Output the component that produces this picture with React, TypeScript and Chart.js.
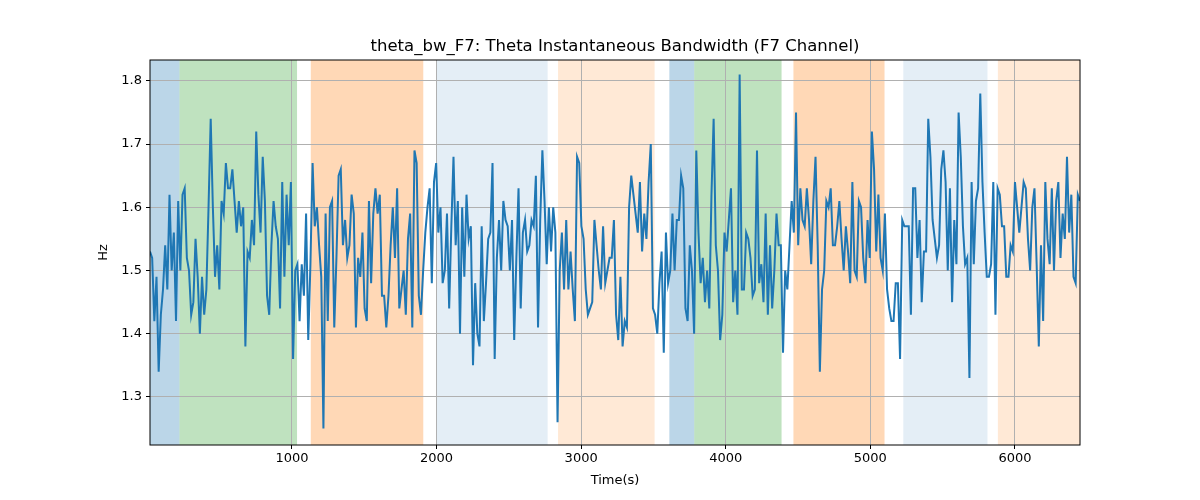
import React, { useEffect, useRef } from "react";
import { Chart, registerables } from "chart.js";
Chart.register(...registerables);

const seg1 = [1.53,1.52,1.42,1.49,1.34,1.43,1.47,1.54,1.47,1.62,1.50,1.56,1.42,1.61,1.50,1.62,1.63,1.52,1.50,1.43,1.45,1.55,1.49,1.40,1.49,1.43,1.47,1.60,1.74,1.60,1.49,1.54,1.47,1.61,1.59,1.67,1.63,1.63,1.66,1.61,1.56,1.61,1.57,1.60,1.38,1.53,1.52,1.58,1.54,1.72,1.62,1.56,1.68,1.61,1.46,1.43,1.54,1.61,1.57,1.55,1.44,1.64,1.49,1.62,1.54,1.64,1.36,1.50,1.51,1.42,1.51,1.46];
const seg2 = [1.59,1.39,1.51,1.67,1.57,1.60,1.54,1.49,1.25,1.59,1.42,1.60,1.61,1.41,1.52,1.65,1.66,1.54,1.58,1.52,1.54,1.62,1.59,1.41,1.52,1.49,1.56,1.44,1.42,1.61,1.48,1.59,1.63,1.59,1.62,1.46,1.46,1.41,1.46,1.54,1.60,1.52,1.63,1.44,1.47,1.50,1.43,1.55,1.59,1.41,1.69,1.67,1.46,1.43,1.50,1.56,1.60,1.63,1.48,1.64,1.67,1.56,1.60,1.48,1.50,1.59,1.44,1.57,1.68,1.54,1.61];
const seg3 = [1.40,1.60,1.49,1.62,1.55,1.57,1.35,1.48,1.40,1.38,1.57,1.42,1.48,1.55,1.56,1.67,1.36,1.52,1.58,1.50,1.61,1.58,1.57,1.50,1.58,1.39,1.52,1.63,1.44,1.56,1.58,1.53,1.54,1.58,1.57,1.65,1.41,1.58,1.69,1.61,1.51,1.60,1.53,1.60,1.56,1.26,1.50,1.56,1.47,1.58,1.47,1.53,1.47,1.42,1.68,1.67,1.57,1.55,1.47,1.43,1.44,1.45,1.58,1.54,1.50,1.47,1.57,1.48,1.50,1.52,1.52,1.58];
const seg4 = [1.43,1.39,1.49,1.38,1.42,1.41,1.60,1.65,1.62,1.59,1.56,1.64,1.53,1.59,1.55,1.64,1.70,1.44,1.43,1.40,1.48,1.53,1.37,1.56,1.48,1.50,1.59,1.50,1.58,1.58,1.65,1.63,1.44,1.42,1.54,1.50,1.40,1.69,1.56,1.48,1.52,1.45,1.50,1.44,1.62,1.74,1.54,1.50,1.39,1.43,1.56,1.53,1.58,1.63,1.45,1.50,1.43,1.81,1.47,1.47,1.56,1.55,1.52,1.46,1.47,1.69,1.48,1.51,1.45,1.59,1.43];
const seg5 = [1.54,1.44,1.50,1.59,1.54,1.54,1.37,1.50,1.47,1.54,1.61,1.56,1.75,1.54,1.63,1.58,1.57,1.63,1.58,1.51,1.61,1.68,1.54,1.34,1.47,1.50,1.61,1.60,1.63,1.54,1.54,1.57,1.61,1.55,1.50,1.57,1.53,1.48,1.64,1.50,1.49,1.61,1.60,1.52,1.48,1.58,1.52,1.72,1.66,1.53,1.62,1.52,1.50,1.59,1.47,1.44,1.42,1.42,1.48,1.48,1.36,1.58,1.57,1.57,1.57,1.43,1.63,1.63,1.52,1.58,1.45];
const seg6 = [1.53,1.53,1.74,1.68,1.58,1.55,1.52,1.54,1.66,1.69,1.64,1.50,1.63,1.45,1.58,1.51,1.75,1.68,1.57,1.51,1.52,1.33,1.64,1.51,1.61,1.63,1.78,1.64,1.56,1.49,1.49,1.51,1.64,1.43,1.63,1.62,1.57,1.57,1.49,1.49,1.54,1.53,1.64,1.60,1.56,1.60,1.64,1.63,1.55,1.50,1.60,1.63,1.51,1.38,1.54,1.42,1.64,1.55,1.51,1.63,1.50,1.61,1.64,1.52,1.59,1.55,1.68,1.56,1.62,1.49,1.48,1.62,1.61];
const values = [...seg1, ...seg2, ...seg3, ...seg4, ...seg5, ...seg6];
const tStart = 18;
const tEnd = 6450;

const regions: [number, number, string][] = [
  [18, 222, "rgba(31,119,180,0.3)"],
  [222, 1035, "rgba(44,160,44,0.3)"],
  [1130, 1908, "rgba(255,127,14,0.3)"],
  [1998, 2768, "rgba(31,119,180,0.12)"],
  [2840, 3508, "rgba(255,127,14,0.17)"],
  [3610, 3782, "rgba(31,119,180,0.3)"],
  [3782, 4386, "rgba(44,160,44,0.3)"],
  [4468, 5098, "rgba(255,127,14,0.3)"],
  [5228, 5810, "rgba(31,119,180,0.12)"],
  [5882, 6450, "rgba(255,127,14,0.17)"],
];
const xTicks = [1000, 2000, 3000, 4000, 5000, 6000];
const yTicks = [1.3, 1.4, 1.5, 1.6, 1.7, 1.8];
const title = "theta_bw_F7: Theta Instantaneous Bandwidth (F7 Channel)";

export default function App() {
  const ref = useRef<HTMLCanvasElement>(null);
  useEffect(() => {
    document.body.style.margin = "0";
    const n = values.length;
    const data = values.map((v, i) => ({ x: tStart + (i * (tEnd - tStart)) / (n - 1), y: v }));
    const font = { family: "DejaVu Sans", size: 13 };
    const chart = new Chart(ref.current!, {
      type: "line",
      data: { datasets: [{ data, borderColor: "#1f77b4", borderWidth: 2, pointRadius: 0, tension: 0 }] },
      plugins: [{
        id: "bg",
        beforeDraw(c: any) {
          const { ctx, chartArea: a, scales } = c;
          ctx.save();
          for (const [s, e, col] of regions) {
            const x1 = scales.x.getPixelForValue(s), x2 = scales.x.getPixelForValue(e);
            ctx.fillStyle = col;
            ctx.fillRect(x1, a.top, x2 - x1, a.bottom - a.top);
          }
          ctx.restore();
        },
        afterDraw(c: any) {
          const { ctx, chartArea: a } = c;
          ctx.save();
          ctx.strokeStyle = "#000"; ctx.lineWidth = 1;
          ctx.strokeRect(a.left, a.top, a.right - a.left, a.bottom - a.top);
          ctx.fillStyle = "#000"; ctx.font = "16.5px 'DejaVu Sans'";
          ctx.textAlign = "center"; ctx.textBaseline = "bottom";
          ctx.fillText(title, (a.left + a.right) / 2, a.top - 5);
          ctx.restore();
        },
      }],
      options: {
        animation: false, responsive: false,
        layout: { padding: { top: 60, right: 120, left: 96, bottom: 10 } },
        plugins: { legend: { display: false }, tooltip: { enabled: false } },
        scales: {
          x: {
            type: "linear", min: tStart, max: tEnd,
            afterBuildTicks: (s: any) => { s.ticks = xTicks.map((v) => ({ value: v })); },
            afterFit: (s: any) => { s.height = 45; },
            grid: { color: "#b0b0b0", tickColor: "#000", tickLength: 4 },
            border: { display: false },
            ticks: { color: "#000", font, maxRotation: 0, padding: 2, callback: (v: any) => String(v) },
            title: { display: true, text: "Time(s)", color: "#000", font, padding: 2 },
          },
          y: {
            min: 1.224, max: 1.833,
            afterBuildTicks: (s: any) => { s.ticks = yTicks.map((v) => ({ value: v })); },
            afterFit: (s: any) => { s.width = 54; },
            grid: { color: "#b0b0b0", tickColor: "#000", tickLength: 4 },
            border: { display: false },
            ticks: { color: "#000", font, padding: 4, callback: (v: any) => Number(v).toFixed(1) },
            title: { display: true, text: "Hz", color: "#000", font, padding: 0 },
          },
        },
      },
    } as any);
    return () => chart.destroy();
  }, []);
  return (
    <div style={{ width: 1200, height: 500 }}>
      <canvas ref={ref} width={1200} height={500} style={{ width: 1200, height: 500 }} />
    </div>
  );
}
